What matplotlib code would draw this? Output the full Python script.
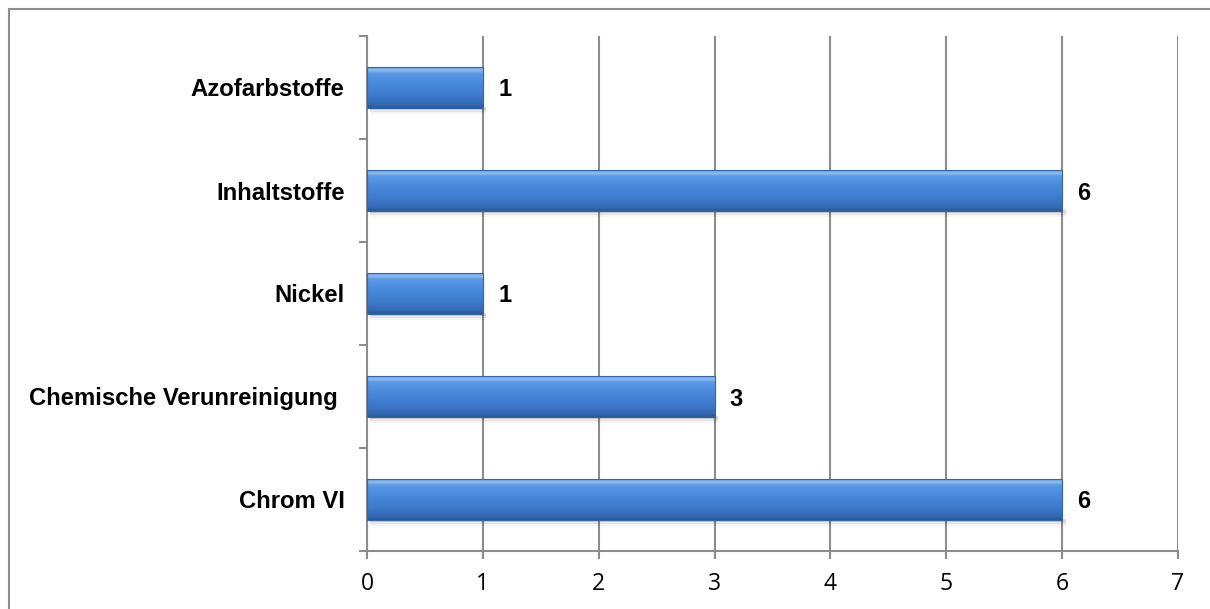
import numpy as np
import matplotlib.pyplot as plt
from matplotlib.colors import LinearSegmentedColormap
from matplotlib.patches import Rectangle

kategorien = ['Chrom VI', 'Chemische Verunreinigung ', 'Nickel', 'Inhaltstoffe', 'Azofarbstoffe']
werte = [6, 3, 1, 6, 1]
x_ticks = [0, 1, 2, 3, 4, 5, 6, 7]

plt.rcParams['font.family'] = ['Liberation Sans', 'DejaVu Sans']

fig = plt.figure(figsize=(12.1, 6.09), dpi=100)
ax = fig.add_axes([367 / 1210, 1 - 551 / 609, (1178 - 367) / 1210, (551 - 36) / 609])

# aeusserer Rahmen
fig.patches.append(Rectangle((8.5 / 1210, -0.1), 1.2, 1 - 8.5 / 609 + 0.1,
                             transform=fig.transFigure, fill=False,
                             edgecolor='#8c8c8c', lw=1.5, zorder=0))

# Verlauf fuer die Balken (oben hell, unten dunkel)
cmap = LinearSegmentedColormap.from_list('blau', [
    (0.0, '#2a5896'), (0.08, '#3369b3'), (0.3, '#3d7acb'), (0.6, '#4889db'),
    (0.86, '#5a9ae6'), (0.93, '#8ebdf2'), (1.0, '#6c9edb')])
grad = np.linspace(0, 1, 80).reshape(-1, 1)

h = 0.39
ypos = np.arange(len(kategorien))
for y, v in zip(ypos, werte):
    # Schatten
    for k, a in enumerate([0.14, 0.08, 0.04]):
        ax.add_patch(Rectangle((0.03, y - h / 2 - 0.02 - k * 0.02), v, 0.03,
                               color='black', alpha=a, lw=0, zorder=2))
    ax.imshow(grad, cmap=cmap, origin='lower', aspect='auto',
              extent=(0, v, y - h / 2, y + h / 2), zorder=3)
    ax.add_patch(Rectangle((0, y - h / 2), v, h, fill=False,
                           edgecolor='#3466a6', lw=0.8, zorder=4))
    ax.annotate(str(v), (v, y), xytext=(11, 0), textcoords='offset points',
                va='center_baseline', ha='left', fontsize=17, fontweight='bold')

ax.set_xlim(0, 7)
ax.set_ylim(-0.5, len(kategorien) - 0.5)
ax.set_xticks(x_ticks)
ax.set_xticklabels([str(t) for t in x_ticks], fontsize=16.5, family=['Open Sans', 'DejaVu Sans'])
ax.set_yticks(np.arange(-0.5, len(kategorien), 1))
ax.set_yticklabels([])
ax.set_yticks(ypos, minor=True)
ax.set_yticklabels(kategorien, minor=True, fontsize=17.2, fontweight='bold')
ax.tick_params(axis='y', which='minor', length=0, pad=16)
ax.tick_params(axis='y', which='major', length=6, width=1.5, color='#8c8c8c', direction='out')
ax.tick_params(axis='x', length=6, width=1.5, color='#8c8c8c', direction='out', pad=9)
ax.grid(axis='x', color='#8c8c8c', lw=1.5, zorder=1)
ax.set_axisbelow(True)
for s in ['top', 'right']:
    ax.spines[s].set_visible(False)
for s in ['left', 'bottom']:
    ax.spines[s].set_color('#8c8c8c')
    ax.spines[s].set_linewidth(1.5)

fig.savefig('out.png', dpi=100)
